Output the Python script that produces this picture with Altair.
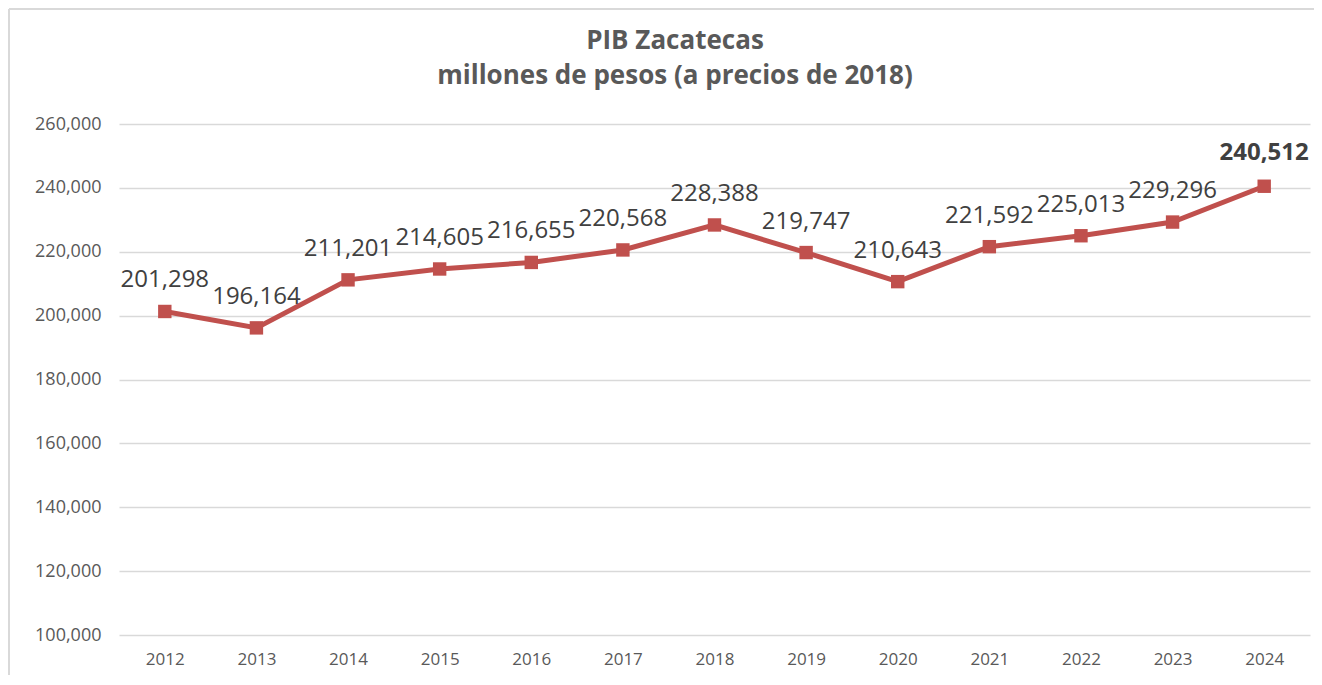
import altair as alt
import pandas as pd

years = ["2012", "2013", "2014", "2015", "2016", "2017", "2018", "2019", "2020", "2021", "2022", "2023", "2024"]
pib = [201298, 196164, 211201, 214605, 216655, 220568, 228388, 219747, 210643, 221592, 225013, 229296, 240512]
highlight = [False] * 12 + [True]
y_ticks = [100000, 120000, 140000, 160000, 180000, 200000, 220000, 240000, 260000]
title_lines = ["PIB Zacatecas", "millones de pesos (a precios de 2018)"]

df = pd.DataFrame({"year": years, "pib": pib, "last": highlight})
one = pd.DataFrame({"k": [0]})

FONT = "Open Sans"
RED = "#C0504D"

x_enc = alt.X("year:N", sort=years, title=None,
              scale=alt.Scale(type="point", padding=0.5),
              axis=alt.Axis(labelAngle=0, ticks=False, domain=False, grid=False,
                            labelFontSize=17, labelColor="#595959", labelFont=FONT,
                            labelPadding=16))
y_enc = alt.Y("pib:Q", title=None,
              scale=alt.Scale(domain=[100000, 260000], nice=False, zero=False),
              axis=alt.Axis(values=y_ticks, format=",.0f",
                            ticks=False, domain=False, gridColor="#D9D9D9", gridWidth=1.5,
                            labelFontSize=18, labelColor="#595959", labelFont=FONT,
                            labelPadding=18))

base = alt.Chart(df)
ob = alt.Chart(one)

border_top = ob.mark_rule(color="#D9D9D9", strokeWidth=2, clip=False).encode(
    x=alt.value(-110), x2=alt.value(1230), y=alt.value(-115))
border_left = ob.mark_rule(color="#D9D9D9", strokeWidth=2, clip=False).encode(
    x=alt.value(-110), y=alt.value(-115), y2=alt.value(570))

title1 = ob.mark_text(text=title_lines[0], font=FONT, fontSize=26, fontWeight="bold",
                      color="#595959", baseline="middle", align="center").encode(
    x=alt.value(556), y=alt.value(-83))
title2 = ob.mark_text(text=title_lines[1], font=FONT, fontSize=26, fontWeight="bold",
                      color="#595959", baseline="middle", align="center").encode(
    x=alt.value(556), y=alt.value(-48))

line = base.mark_line(color=RED, strokeWidth=5).encode(x=x_enc, y=y_enc)
pts = base.mark_point(shape="square", filled=True, color=RED, size=180, opacity=1).encode(
    x=alt.X("year:N", sort=years), y=alt.Y("pib:Q"))

labels = base.transform_filter("!datum.last").mark_text(
    dy=-31, fontSize=24, font=FONT, color="#404040"
).encode(x=alt.X("year:N", sort=years), y=alt.Y("pib:Q"),
         text=alt.Text("pib:Q", format=","))

last_label = base.transform_filter("datum.last").mark_text(
    dy=-33, fontSize=24, font=FONT, fontWeight="bold", color="#404040"
).encode(x=alt.X("year:N", sort=years), y=alt.Y("pib:Q"),
         text=alt.Text("pib:Q", format=","))

chart = alt.layer(line, pts, labels, last_label, border_top, border_left, title1, title2).properties(
    width=1191, height=511,
    padding={"left": 111, "top": 116, "right": 4, "bottom": 40},
    autosize=alt.AutoSizeParams(type="none")
).configure(background="white").configure_view(stroke=None)

chart.save("out.html", embed_options={"renderer": "svg", "actions": False})
